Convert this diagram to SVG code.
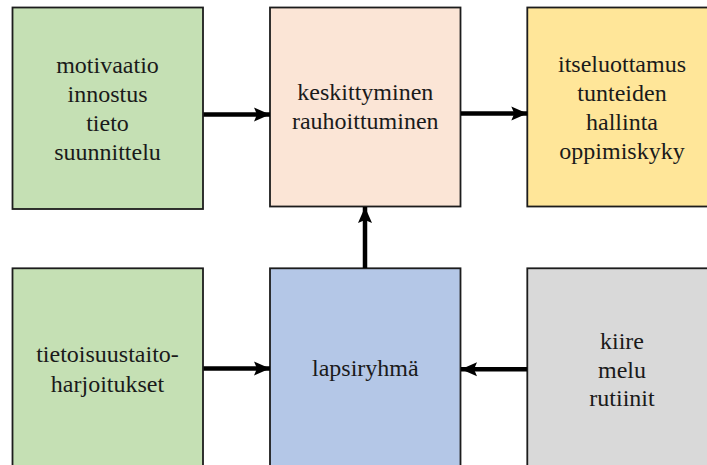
<svg xmlns="http://www.w3.org/2000/svg" width="707" height="465" viewBox="0 0 707 465" font-family="'Liberation Serif', 'DejaVu Serif', serif">
  <style>
    .box { stroke: #1c1c1c; stroke-width: 1.8; }
    .lbl { font-family: 'Liberation Serif', 'DejaVu Serif', serif; font-size: 24px; fill: #1a1a1a; text-anchor: middle; }
    .link { stroke: #000; stroke-width: 4.5; fill: none; marker-end: url(#head); }
  </style>
  <defs>
    <marker id="head" markerUnits="userSpaceOnUse" markerWidth="17" markerHeight="17" viewBox="0 0 17 17" refX="16" refY="8.5" orient="auto">
      <path d="M0,1.5 L16,8.5 L0,15.5 L3,8.5 Z" fill="#000"/>
    </marker>
  </defs>
  <rect width="707" height="465" fill="#ffffff"/>

  <g id="motivation">
    <rect class="box" x="12.5" y="7.5" width="190.5" height="201.5" fill="#C5E0B4"/>
    <text class="lbl" font-family="Liberation Serif" x="107.5" y="73">motivaatio</text>
    <text class="lbl" font-family="Liberation Serif" x="107.5" y="102">innostus</text>
    <text class="lbl" font-family="Liberation Serif" x="107.5" y="131">tieto</text>
    <text class="lbl" font-family="Liberation Serif" x="107.5" y="160">suunnittelu</text>
  </g>

  <g id="focus">
    <rect class="box" x="270" y="7.5" width="190.5" height="199" fill="#FBE5D6"/>
    <text class="lbl" font-family="Liberation Serif" x="365.3" y="100">keskittyminen</text>
    <text class="lbl" font-family="Liberation Serif" x="365.3" y="128.5">rauhoittuminen</text>
  </g>

  <g id="outcomes">
    <rect class="box" x="527.3" y="7.5" width="190" height="199" fill="#FFE699"/>
    <text class="lbl" font-family="Liberation Serif" x="622" y="72">itseluottamus</text>
    <text class="lbl" font-family="Liberation Serif" x="622" y="101">tunteiden</text>
    <text class="lbl" font-family="Liberation Serif" x="622" y="129.5">hallinta</text>
    <text class="lbl" font-family="Liberation Serif" x="622" y="158.5">oppimiskyky</text>
  </g>

  <g id="exercises">
    <rect class="box" x="12.5" y="268.3" width="190.5" height="210" fill="#C5E0B4"/>
    <text class="lbl" font-family="Liberation Serif" x="107.5" y="362">tietoisuustaito-</text>
    <text class="lbl" font-family="Liberation Serif" x="107.5" y="391.5">harjoitukset</text>
  </g>

  <g id="group">
    <rect class="box" x="270" y="268.3" width="190.5" height="210" fill="#B4C7E7"/>
    <text class="lbl" font-family="Liberation Serif" x="365.3" y="376">lapsiryhmä</text>
  </g>

  <g id="environment">
    <rect class="box" x="527.3" y="268.3" width="190" height="210" fill="#D9D9D9"/>
    <text class="lbl" font-family="Liberation Serif" x="622" y="348.5">kiire</text>
    <text class="lbl" font-family="Liberation Serif" x="622" y="377.5">melu</text>
    <text class="lbl" font-family="Liberation Serif" x="622" y="406">rutiinit</text>
  </g>

  <g id="connectors">
    <line class="link" x1="203.5" y1="114.5" x2="270" y2="114.5"/>
    <line class="link" x1="461" y1="113.5" x2="527.3" y2="113.5"/>
    <line class="link" x1="365" y1="268" x2="365" y2="207"/>
    <line class="link" x1="203.5" y1="368.5" x2="270" y2="368.5"/>
    <line class="link" x1="527" y1="369.3" x2="461" y2="369.3"/>
  </g>
</svg>
